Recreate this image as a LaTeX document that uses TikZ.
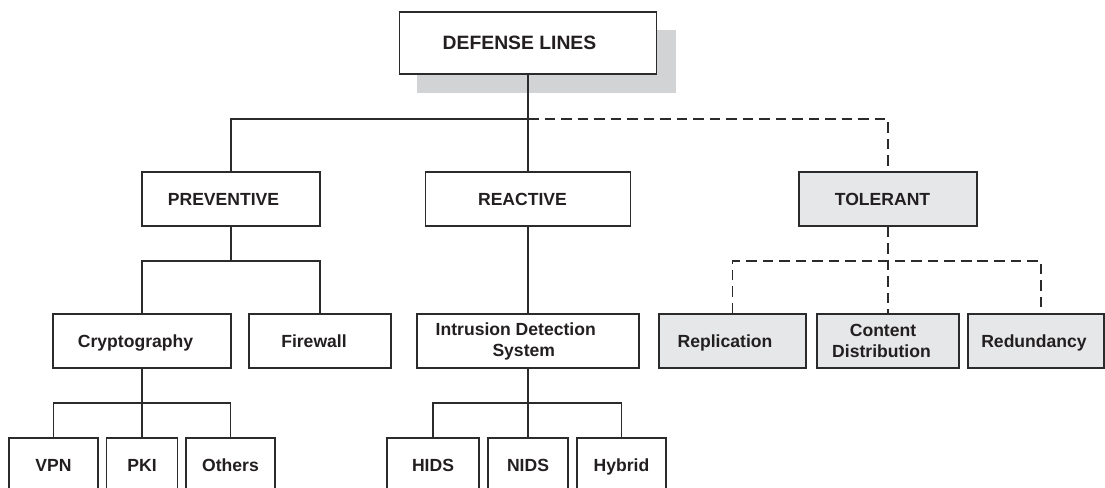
\documentclass[tikz,border=0pt]{standalone}
\usepackage{fontspec}
\setmainfont{Liberation Sans}
\definecolor{ln}{HTML}{2B2B2B}
\definecolor{tf}{HTML}{E6E7E8}
\definecolor{shd}{HTML}{D1D3D4}
\definecolor{tx}{HTML}{231F20}
\tikzset{
  bx/.style={draw=ln, line width=0.8pt, fill=white, inner sep=0pt, text=tx,
    font=\fontsize{10}{12}\selectfont\bfseries, align=center},
  one/.style={text height=7.2pt, text depth=0pt},
  tl/.style={bx, fill=tf},
  sz/.style 2 args={minimum width=#1*0.02cm, minimum height=#2*0.02cm},
  conn/.style={draw=ln, line width=0.8pt},
  dconn/.style={conn, dash pattern=on 6pt off 3.4pt},
}
\begin{document}
\begin{tikzpicture}[x=0.02cm, y=-0.02cm]
\useasboundingbox (0,0) rectangle (1105,487);
\clip (0,0) rectangle (1105,487);
% shadow of the root box
\fill[shd] (417,30) rectangle (676,93);
% nodes
\node[bx, sz={257}{62}, text height=7.9pt, text depth=0pt, font=\fontsize{11}{13}\selectfont\bfseries] (top) at (528,43) {DEFENSE LINES\kern0.34cm};
\node[bx, one, sz={178}{54}] (prev) at (231,199) {PREVENTIVE\kern0.3cm};
\node[bx, one, sz={205}{54}] (reac) at (528,199) {REACTIVE\kern0.22cm};
\node[tl, one, sz={178}{54}] (tol) at (888,199) {TOLERANT\kern0.22cm};
\node[bx, one, sz={178}{54}] (cryp) at (142,341) {Cryptography\kern0.26cm};
\node[bx, one, sz={142}{54}] (fire) at (320,341) {Firewall\kern0.24cm};
\node[bx, sz={222}{54}] (ids) at (528,341) {Intrusion Detection\kern0.49cm\\System\kern0.17cm};
\node[tl, one, sz={147}{54}] (repl) at (732.5,341) {Replication\kern0.3cm};
\node[tl, sz={142}{54}] (cont) at (888,341) {Content\kern0.2cm\\Distribution\kern0.26cm};
\node[tl, one, sz={136}{54}] (redu) at (1036,341) {Redundancy\kern0.08cm};
\node[bx, one, sz={89}{54}] (vpn) at (53.5,465) {VPN};
\node[bx, one, sz={71}{54}] (pki) at (142,465) {PKI};
\node[bx, one, sz={89}{54}] (oth) at (230.5,465) {Others};
\node[bx, one, sz={92}{54}] (hids) at (433,465) {HIDS};
\node[bx, one, sz={80}{54}] (nids) at (528,465) {NIDS};
\node[bx, one, sz={89}{54}] (hyb) at (621.5,465) {Hybrid};
% junctions
\coordinate (j1) at (528,119);
\coordinate (j2) at (231,261);
\coordinate (j3) at (142,403);
\coordinate (j4) at (528,403);
\coordinate (j5) at (888,261);
% connectors
\draw[conn] (top.south) -- (reac.north);
\draw[conn] (j1) -| (prev.north);
\draw[dconn] (j1) -| (tol.north);
\draw[conn] (prev.south) -- (j2);
\draw[conn] (cryp.north) |- (j2) -| (fire.north);
\draw[conn] (reac.south) -- (ids.north);
\draw[conn] (cryp.south) -- (pki.north);
\draw[conn] (vpn.north) |- (j3) -| (oth.north);
\draw[conn] (ids.south) -- (nids.north);
\draw[conn] (hids.north) |- (j4) -| (hyb.north);
\draw[dconn] (tol.south) -- (cont.north);
\draw[dconn] (repl.north) |- (j5) -| ([xshift=0.1cm]redu.north);
\end{tikzpicture}
\end{document}
